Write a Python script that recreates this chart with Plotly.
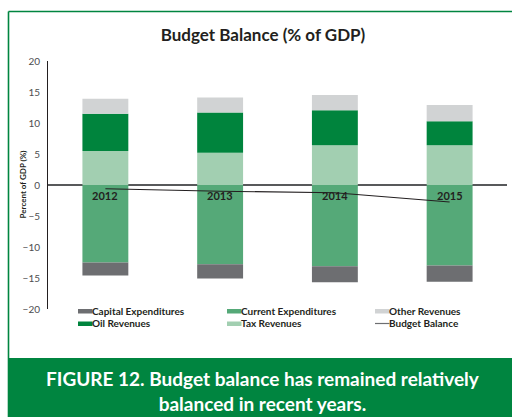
import plotly.graph_objects as go

# ---- data (% of GDP) ----
years = ["2012", "2013", "2014", "2015"]
tax_revenues = [5.5, 5.2, 6.4, 6.4]
oil_revenues = [6.0, 6.5, 5.65, 3.9]
other_revenues = [2.4, 2.4, 2.45, 2.6]
current_expenditures = [-12.5, -12.8, -13.1, -13.0]
capital_expenditures = [-2.1, -2.3, -2.6, -2.6]
budget_balance = [-0.6, -1.0, -1.25, -2.75]

# ---- styling ----
FONT = "Lato"
GREEN = "#008540"
C_CAPITAL = "#6d6e71"
C_CURRENT = "#55a978"
C_OTHER = "#d1d3d4"
C_OIL = "#00843d"
C_TAX = "#a2cfb1"
C_BAL = "#231f20"

W, H = 512, 417
M_L, M_R, M_T, M_B = 48, 5, 61, 108
PW, PH = W - M_L - M_R, H - M_T - M_B


def px_x(px):
    """pixel x -> paper x"""
    return (px - M_L) / PW


def px_y(py):
    """pixel y (from top) -> paper y"""
    return (H - M_B - py) / PH


fig = go.Figure()

# positive stack: tax, oil, other ; negative stack: current, capital
for name, vals, col in [
    ("Tax Revenues", tax_revenues, C_TAX),
    ("Oil Revenues", oil_revenues, C_OIL),
    ("Other Revenues", other_revenues, C_OTHER),
    ("Current Expenditures", current_expenditures, C_CURRENT),
    ("Capital Expenditures", capital_expenditures, C_CAPITAL),
]:
    fig.add_trace(go.Bar(x=years, y=vals, name=name, marker_color=col,
                         marker_line_width=0, width=0.4, showlegend=False))

fig.add_trace(go.Scatter(x=years, y=budget_balance, name="Budget Balance",
                         mode="lines", line=dict(color=C_BAL, width=1.1),
                         showlegend=False))

shapes = []
annotations = []

# frame: thin green border on top/left, green caption band at the bottom
shapes.append(dict(type="line", xref="paper", yref="paper",
                   x0=px_x(8.5), x1=px_x(W + 2), y0=px_y(11.5), y1=px_y(11.5),
                   line=dict(color=GREEN, width=1.6)))
shapes.append(dict(type="line", xref="paper", yref="paper",
                   x0=px_x(8.5), x1=px_x(8.5), y0=px_y(11.5), y1=px_y(358),
                   line=dict(color=GREEN, width=1.6)))
shapes.append(dict(type="rect", xref="paper", yref="paper",
                   x0=px_x(7.7), x1=px_x(W + 2), y0=px_y(358), y1=px_y(H + 2),
                   fillcolor=GREEN, line=dict(width=0), layer="below"))

annotations.append(dict(
    text="<b>FIGURE 12. Budget balance has remained relatively<br>balanced in recent years.</b>",
    xref="paper", yref="paper", x=px_x(263), y=px_y(391.5), xanchor="center",
    yanchor="middle", showarrow=False,
    font=dict(family=FONT, size=19, color="white")))

# year labels just below the zero line
for i, yr in enumerate(years):
    annotations.append(dict(text=f"<b>{yr}</b>", x=i, y=0, xref="x", yref="y",
                            yanchor="top", yshift=-1.5, showarrow=False,
                            font=dict(family=FONT, size=11, color="#231f20")))

# y axis title
annotations.append(dict(text="<b>Percent of GDP (%)</b>", xref="paper", yref="paper",
                        x=px_x(22.5), y=0.5, textangle=-90, showarrow=False,
                        xanchor="center", yanchor="middle",
                        font=dict(family=FONT, size=8, color="#231f20")))

# legend, three columns
legend_items = [
    ("Capital Expenditures", C_CAPITAL, "bar"),
    ("Current Expenditures", C_CURRENT, "bar"),
    ("Other Revenues", C_OTHER, "bar"),
    ("Oil Revenues", C_OIL, "bar"),
    ("Tax Revenues", C_TAX, "bar"),
    ("Budget Balance", "#6d6e71", "line"),
]
col_x = [78, 227, 375]
row_y = [310.5, 323]
for i, (name, col, kind) in enumerate(legend_items):
    x0 = col_x[i % 3]
    yc = row_y[i // 3]
    if kind == "bar":
        shapes.append(dict(type="rect", xref="paper", yref="paper",
                           x0=px_x(x0), x1=px_x(x0 + 14.5),
                           y0=px_y(yc + 3), y1=px_y(yc - 1.5),
                           fillcolor=col, line=dict(width=0)))
    else:
        shapes.append(dict(type="line", xref="paper", yref="paper",
                           x0=px_x(x0), x1=px_x(x0 + 14.5),
                           y0=px_y(yc + 0.5), y1=px_y(yc + 0.5),
                           line=dict(color=col, width=1.2)))
    annotations.append(dict(text=f"<b>{name}</b>", xref="paper", yref="paper",
                            x=px_x(x0 + 13), y=px_y(yc), xanchor="left",
                            yanchor="middle", showarrow=False, borderpad=0,
                            font=dict(family=FONT, size=10, color="#231f20")))

fig.update_layout(
    width=W, height=H,
    margin=dict(l=M_L, r=M_R, t=M_T, b=M_B, pad=0),
    paper_bgcolor="white", plot_bgcolor="white",
    barmode="relative",
    showlegend=False,
    title=dict(text="<b>Budget Balance (% of GDP)</b>", x=263 / W,
               xanchor="center", y=1 - 35 / H, yanchor="middle",
               font=dict(family=FONT, size=17, color="#231f20")),
    xaxis=dict(type="category", range=[-0.5, 3.5], showticklabels=False,
               showline=False, showgrid=False, zeroline=False, ticks=""),
    yaxis=dict(range=[-20, 20], dtick=5, showgrid=False,
               showline=True, linecolor="#231f20", linewidth=1,
               zeroline=True, zerolinecolor="#58595b", zerolinewidth=1.5,
               ticks="", ticklabelstandoff=5,
               tickfont=dict(family=FONT, size=10, color="#4d4d4f")),
    shapes=shapes,
    annotations=annotations,
)

fig.write_html("out.html")
